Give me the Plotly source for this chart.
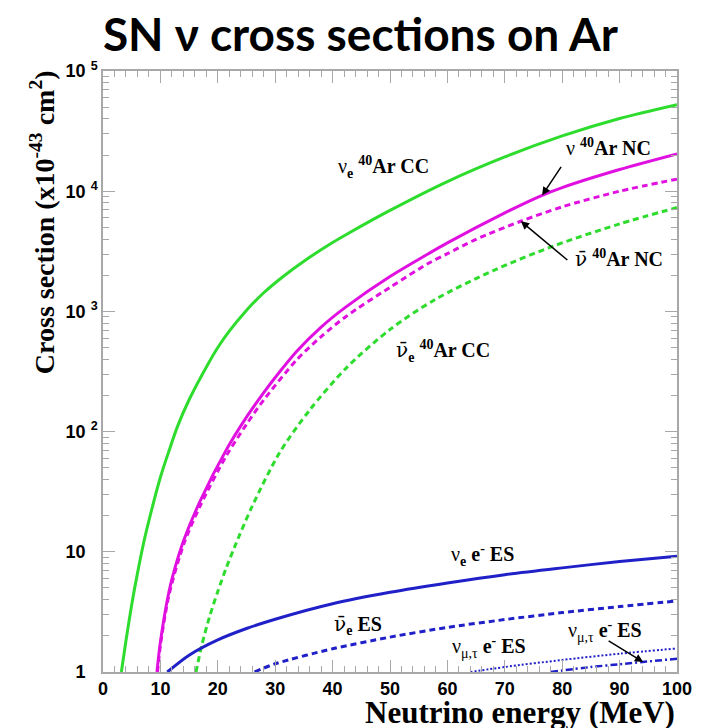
import numpy as np
import plotly.graph_objects as go

# ---------------- data ----------------
# nu_e 40Ar CC (green solid)
E_nue_cc = [3.2, 4, 5, 6, 7.2, 8, 10, 11.5, 13, 15, 18.4, 20, 22, 24.9, 28, 31.5, 35, 40, 42.4,
            50, 60, 70, 80, 90, 100]
S_nue_cc = [1.0, 1.82, 3.63, 6.61, 12.6, 18.2, 41.7, 69.2, 111, 184, 372, 501, 685, 1009, 1429,
            1972, 2618, 3741, 4365, 6918, 12023, 19275, 28840, 40272, 52481]

# nu 40Ar NC (magenta solid)
E_nu_nc = [9.4, 10, 11.5, 12.5, 14.1, 17, 21.5, 25, 28.1, 30, 33.8, 38, 42.4, 50, 56.7, 60,
           70, 76.2, 80, 90, 100]
S_nu_nc = [1.0, 1.78, 4.68, 7.24, 12.6, 26.9, 70.8, 132, 214, 282, 468, 741, 1096, 1950, 3020, 3715,
           6607, 9120, 10715, 15136, 20417]

# anti-nu 40Ar NC (magenta dashed)
E_nubar_nc = [9.5, 10, 11.5, 14.1, 17, 21.5, 25, 28.1, 33.8, 38, 42.4, 50, 56.7, 60, 65, 72.8, 80, 90, 100]
S_nubar_nc = [1.0, 1.66, 4.37, 11.7, 24.5, 63.1, 115, 186, 398, 617, 912, 1585, 2512, 3020, 3981,
              5623, 7413, 10000, 12589]

# anti-nu_e 40Ar CC (green dashed)
E_nuebar_cc = [16.2, 17.2, 18.5, 20, 21.5, 23, 26, 30.7, 36, 42.4, 50, 57.9, 68, 78.5, 90, 100]
S_nuebar_cc = [1.0, 1.66, 2.82, 4.68, 7.41, 11.2, 24, 66, 151, 339, 708, 1259, 2188, 3500, 5346, 7311]

# nu_e e- ES (blue solid)
E_nue_es = [11.2, 15, 20, 25, 30, 40, 50, 60, 70, 80, 90, 100]
S_nue_es = [1.0, 1.38, 1.85, 2.3, 2.75, 3.7, 4.6, 5.5, 6.45, 7.35, 8.3, 9.2]

# anti-nu_e ES (blue dashed)
E_nuebar_es = [26.4, 30, 40, 50, 60, 70, 80, 90, 100]
S_nuebar_es = [1.0, 1.17, 1.56, 1.95, 2.35, 2.73, 3.12, 3.5, 3.9]

# nu_mu,tau e- ES (blue dotted)
E_numu_es = [64, 70, 80, 90, 100]
S_numu_es = [1.0, 1.1, 1.26, 1.42, 1.57]

# anti nu_mu,tau e- ES (blue dash-dot)
E_numubar_es = [78, 85, 90, 100]
S_numubar_es = [1.0, 1.1, 1.16, 1.29]

y_tickvals = [1, 10, 100, 1000, 10000, 100000]
y_base = ["1", "10", "10", "10", "10", "10"]
y_exp = ["", "", "2", "3", "4", "5"]

GREEN = "#2edc2e"
MAGENTA = "#e011e0"
BLUE = "#2020c8"
AXIS = "#a8a8a8"

fig = go.Figure()


def add(E, S, color, dash, width):
    fig.add_trace(go.Scatter(
        x=E, y=S, mode="lines",
        line=dict(color=color, dash=dash, width=width, shape="spline", smoothing=0.8),
        showlegend=False, hoverinfo="skip"))


add(E_nue_cc, S_nue_cc, GREEN, "solid", 3)
add(E_nuebar_cc, S_nuebar_cc, GREEN, "6px,4px", 3)
add(E_nu_nc, S_nu_nc, MAGENTA, "solid", 3)
add(E_nubar_nc, S_nubar_nc, MAGENTA, "6px,4px", 3)
add(E_nue_es, S_nue_es, BLUE, "solid", 3)
add(E_nuebar_es, S_nuebar_es, BLUE, "6px,4px", 3)
add(E_numu_es, S_numu_es, BLUE, "2px,2px", 2)
add(E_numubar_es, S_numubar_es, BLUE, "7px,3px,2px,3px", 2.5)

# y tick text: base number right-aligned, exponent overhanging
HID = "<span style='color:rgba(0,0,0,0)'>{}</span>"
y_ticktext = []
for b, e in zip(y_base, y_exp):
    if e:
        y_ticktext.append(f"{b} <sup>{e}</sup>")
    else:
        y_ticktext.append(b + HID.format(".") + "<sup>" + HID.format("5") + "</sup>")

minor_y = [m * 10 ** d for d in range(5) for m in range(2, 10)]

tickfont = dict(family="Liberation Sans", size=18, color="black", weight="bold")

fig.update_xaxes(
    range=[0, 100], tickmode="linear", tick0=0, dtick=10,
    ticks="inside", ticklen=12, tickwidth=1, tickcolor=AXIS,
    minor=dict(dtick=2, tick0=0, ticks="inside", ticklen=6, tickcolor=AXIS, showgrid=False),
    showline=True, linecolor=AXIS, linewidth=1.5, mirror="ticks",
    showgrid=False, zeroline=False, tickfont=tickfont,
)
fig.update_yaxes(
    type="log", range=[0, 5], tickmode="array", tickvals=y_tickvals, ticktext=y_ticktext,
    ticks="inside", ticklen=12, tickwidth=1, tickcolor=AXIS,
    minor=dict(tickmode="array", tickvals=minor_y, ticks="inside", ticklen=6, tickcolor=AXIS, showgrid=False),
    showline=True, linecolor=AXIS, linewidth=1.5, mirror="ticks",
    showgrid=False, zeroline=False, tickfont=tickfont,
)

NUBAR = "<span style='font-family:DejaVu Serif'>ν̄</span>"
lab_font = dict(family="Liberation Serif", size=20, color="black")
labels = [
    (48.8, 4.20, "ν<sub><b>e</b></sub> <b><sup>40</sup>Ar CC</b>"),
    (88.1, 4.367, "ν <b><sup>40</sup>Ar NC</b>"),
    (89.9, 3.44, NUBAR + " <b><sup>40</sup>Ar NC</b>"),
    (59.3, 2.667, NUBAR + "<sub><b>e</b></sub> <b><sup>40</sup>Ar CC</b>"),
    (66.1, 0.975, "ν<sub><b>e</b></sub> <b>e<sup>-</sup> ES</b>"),
    (44.4, 0.392, NUBAR + "<sub><b>e</b></sub> <b>ES</b>"),
    (67.2, 0.208, "ν<sub>μ,τ</sub> <b>e<sup>-</sup> ES</b>"),
    (87.4, 0.342, "ν<sub>μ,τ</sub> <b>e<sup>-</sup> ES</b>"),
]
for x, y, t in labels:
    fig.add_annotation(x=x, y=y, xref="x", yref="y", text=t, showarrow=False, font=lab_font,
                       xanchor="center", yanchor="middle")


def curve_log(E_arr, S_arr, e):
    return float(np.interp(e, E_arr, np.log10(S_arr)))


arrows = [
    (76.5, curve_log(E_nu_nc, S_nu_nc, 76.5), 20, -30),
    (72.8, curve_log(E_nubar_nc, S_nubar_nc, 72.8), 48, 40),
    (94.1, curve_log(E_numubar_es, S_numubar_es, 94.1), -36, -22),
]
for x, y, ax, ay in arrows:
    fig.add_annotation(x=x, y=y, xref="x", yref="y", text="", showarrow=True,
                       ax=ax, ay=ay, arrowhead=2, arrowsize=1.1, arrowwidth=1.5,
                       arrowcolor="black", standoff=0)

# axis titles
fig.add_annotation(xref="paper", yref="paper", x=-0.104, y=0.749, xanchor="center", yanchor="middle",
                   textangle=-90,
                   text="<b>Cross section (x10<sup>-43</sup> cm<sup>2</sup>)</b>",
                   showarrow=False, font=dict(family="Liberation Serif", size=28, color="black"))
fig.add_annotation(xref="paper", yref="paper", x=1.0, xanchor="right", y=-0.0666, yanchor="middle",
                   text="<b>Neutrino energy (MeV)</b>",
                   showarrow=False, font=dict(family="Liberation Serif", size=31, color="black"))

fig.update_layout(
    width=704, height=728,
    margin=dict(l=103, r=19, t=71, b=56),
    paper_bgcolor="white", plot_bgcolor="white",
    title=dict(text="<b>SN ν cross sections on Ar</b>", x=0.512, xanchor="center",
               y=1 - 35 / 728, yanchor="middle", yref="container",
               font=dict(family="Lato", size=46, color="black")),
)

fig.write_html("out.html")
